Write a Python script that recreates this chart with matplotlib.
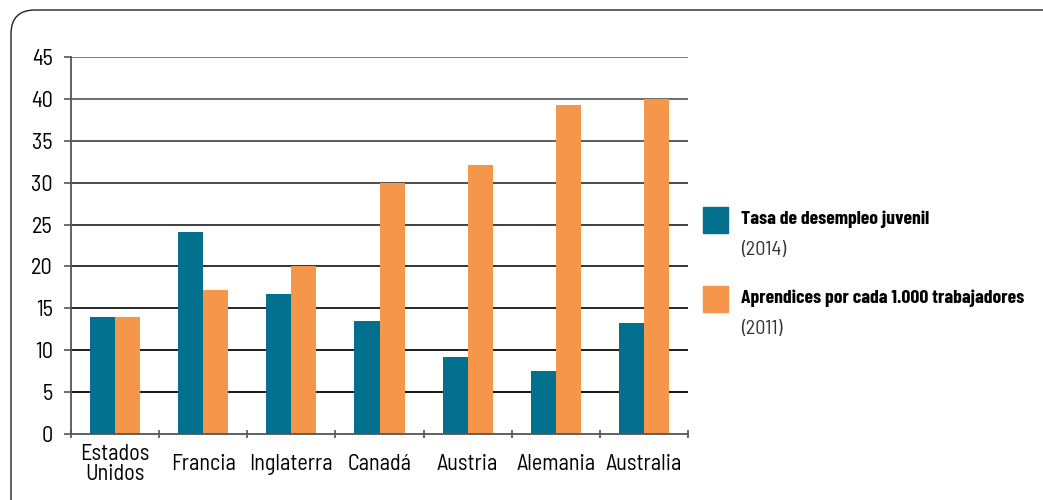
import matplotlib
matplotlib.use("Agg")
import matplotlib.pyplot as plt
from matplotlib.patches import FancyBboxPatch, Rectangle
from matplotlib import font_manager
import numpy as np

categories = ["Estados\nUnidos", "Francia", "Inglaterra", "Canadá", "Austria", "Alemania", "Australia"]
desempleo = [14.0, 24.1, 16.7, 13.5, 9.2, 7.5, 13.2]
aprendices = [14.0, 17.2, 20.0, 30.0, 32.1, 39.3, 40.0]
yticks = [0, 5, 10, 15, 20, 25, 30, 35, 40, 45]
legend_titles = ["Tasa de desempleo juvenil", "Aprendices por cada 1.000 trabajadores"]
legend_years = ["(2014)", "(2011)"]

teal = "#03718D"
orange = "#F5964A"

available = {f.name for f in font_manager.fontManager.ttflist}
prefs = ["Barlow Semi Condensed", "Roboto Condensed", "Barlow Condensed", "PT Sans Narrow",
         "Fira Sans Condensed", "Open Sans Condensed", "Liberation Sans Narrow", "Archivo Narrow"]
chosen = [p for p in prefs if p in available][:1]
fam = chosen + ["DejaVu Sans"]
plt.rcParams['font.family'] = fam
prefs_narrow = ["Barlow Condensed", "Roboto Condensed"] + prefs
legend_fam = [p for p in prefs_narrow if p in available][:1] + ["DejaVu Sans"]

W, H = 1043, 500
fig = plt.figure(figsize=(W/100, H/100), dpi=100)

# background axes in pixel units for the rounded frame
bg = fig.add_axes([0, 0, 1, 1])
bg.set_xlim(0, W)
bg.set_ylim(H, 0)
bg.axis("off")
bg.add_patch(FancyBboxPatch((11, 10), W + 40, H + 40,
                            boxstyle="round,pad=0,rounding_size=24",
                            fill=False, ec="#222222", lw=1.0))

ax = fig.add_axes([71/W, 1-434/H, (688-71)/W, (434-57)/H])
x = np.arange(len(categories))
bw = 0.285
ax.set_xlim(-0.5, len(categories)-0.5)
ax.set_ylim(0, 45)

# gridlines, grey at top to black at bottom
for v in yticks[1:]:
    g = 0.45 * (v/45)**1.5
    ax.axhline(v, color=(g, g, g), lw=1.3, zorder=1)

ax.bar(x - bw/2, desempleo, bw, color=teal, zorder=2)
ax.bar(x + bw/2, aprendices, bw, color=orange, zorder=2)

for s in ["top", "right"]:
    ax.spines[s].set_visible(False)
for s in ["left", "bottom"]:
    ax.spines[s].set_color("#555555")
    ax.spines[s].set_linewidth(1.3)

ax.set_yticks(yticks)
ax.set_yticklabels([str(v) for v in yticks], fontsize=16)
ax.tick_params(axis="y", length=5, width=1.2, color="#555555", pad=8)

ax.set_xticks(np.arange(-0.5, len(categories)))
ax.set_xticklabels([])
ax.tick_params(axis="x", length=6, width=1.2, color="#555555", direction="inout")
ax.set_xticks(x, minor=True)
ax.set_xticklabels(categories, minor=True, fontsize=16, linespacing=0.95)
ax.tick_params(axis="x", which="minor", length=0, pad=22)
for lab in ax.get_xticklabels(minor=True):
    lab.set_va("center")

# legend
colors = [teal, orange]
sq_y = [207, 286]
titles = []
for i in range(2):
    fig.patches.append(Rectangle((703/W, 1-(sq_y[i]+26)/H), 25/W, 26/H,
                                 transform=fig.transFigure, color=colors[i]))
    t = fig.text(741/W, 1-(sq_y[i]+12)/H, legend_titles[i], fontsize=16,
                 fontweight="bold", va="center", ha="left", family=legend_fam)
    titles.append(t)
    fig.text(741/W, 1-(sq_y[i]+43)/H, legend_years[i], fontsize=14.5,
             va="center", ha="left", color="#333333")

# shrink legend titles so the longer one spans the reference width (284 px)
fig.canvas.draw()
r = fig.canvas.get_renderer()
wmax = max(t.get_window_extent(r).width for t in titles)
scale = min(1.0, 284.0 / wmax)
for t in titles:
    t.set_fontsize(16 * scale)

fig.savefig("out.png", dpi=100)
